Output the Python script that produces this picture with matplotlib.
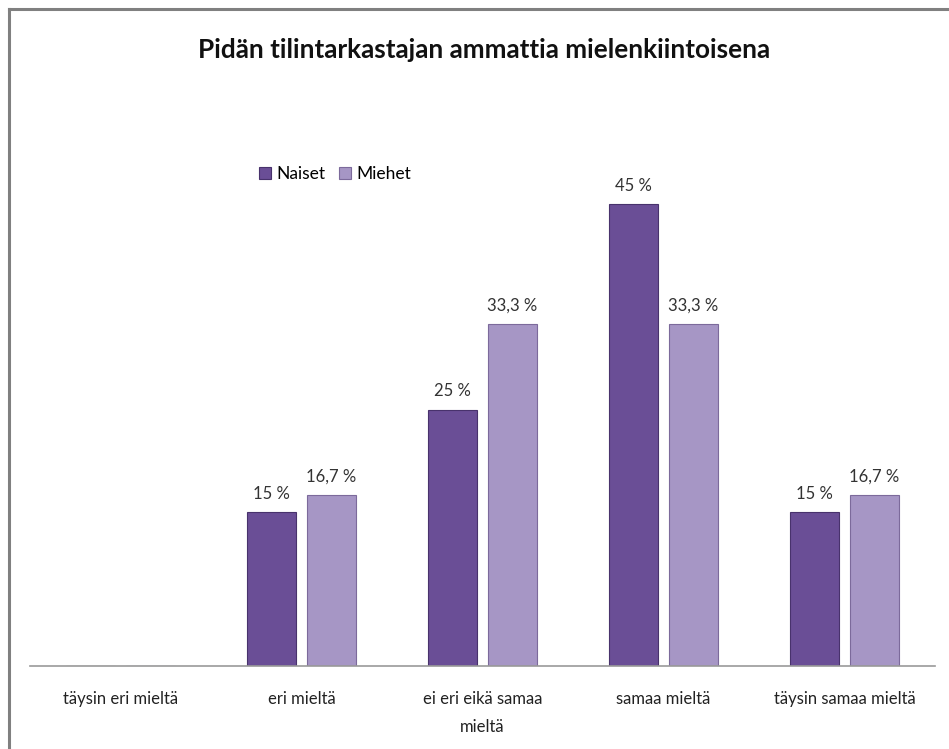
import matplotlib.pyplot as plt
import numpy as np

plt.rcParams['font.family'] = ['Lato', 'DejaVu Sans']

categories = ['täysin eri mieltä', 'eri mieltä', 'ei eri eikä samaa\nmieltä',
              'samaa mieltä', 'täysin samaa mieltä']
naiset = [0, 15, 25, 45, 15]
miehet = [0, 16.7, 33.3, 33.3, 16.7]
naiset_labels = ['', '15 %', '25 %', '45 %', '15 %']
miehet_labels = ['', '16,7 %', '33,3 %', '33,3 %', '16,7 %']

W, H = 949, 749
fig = plt.figure(figsize=(W / 100, H / 100), dpi=100)

# outer frame (only left and top visible in the crop)
fig.add_artist(plt.Line2D([8.5 / W, 8.5 / W], [0, 1 - 8.5 / H], color='#808080', lw=2.2))
fig.add_artist(plt.Line2D([8.5 / W, 1], [1 - 8.5 / H, 1 - 8.5 / H], color='#808080', lw=2.2))

ax = fig.add_axes([30 / W, 1 - 666 / H, 905 / W, (666 - 153) / H])

x = np.arange(len(categories))
bw = 49 / 181
off = 30 / 181
b1 = ax.bar(x - off, naiset, bw, color='#6a4e96', edgecolor='#48326c', linewidth=0.8, label='Naiset')
b2 = ax.bar(x + off, miehet, bw, color='#a696c5', edgecolor='#7c6a9b', linewidth=0.8, label='Miehet')

for bars, labels in ((b1, naiset_labels), (b2, miehet_labels)):
    for rect, lab in zip(bars, labels):
        if lab:
            ax.text(rect.get_x() + rect.get_width() / 2, rect.get_height() + 1.0, lab,
                    ha='center', va='bottom', fontsize=12, color='#333333')

ax.set_xlim(-0.5, len(categories) - 0.5)
ax.set_ylim(0, 50)
ax.set_yticks([])
ax.set_xticks(x)
ax.set_xticklabels(categories, fontsize=12, color='#222222', linespacing=1.9)
ax.tick_params(axis='x', length=0, pad=18)
for s in ('top', 'right', 'left'):
    ax.spines[s].set_visible(False)
ax.spines['bottom'].set_color('#999999')
ax.spines['bottom'].set_linewidth(1.2)

ax.legend(loc='upper left', bbox_to_anchor=(222 / 905, 1 - 6 / 513), frameon=False,
          ncol=2, fontsize=12.5, handlelength=0.7, handleheight=0.7, handletextpad=0.3,
          columnspacing=0.8, borderaxespad=0)

fig.text(484 / W, 1 - 50 / H, 'Pidän tilintarkastajan ammattia mielenkiintoisena',
         ha='center', va='center', fontsize=18.8, fontweight='bold', color='#111111')

fig.savefig('out.png', dpi=100, facecolor='white')
